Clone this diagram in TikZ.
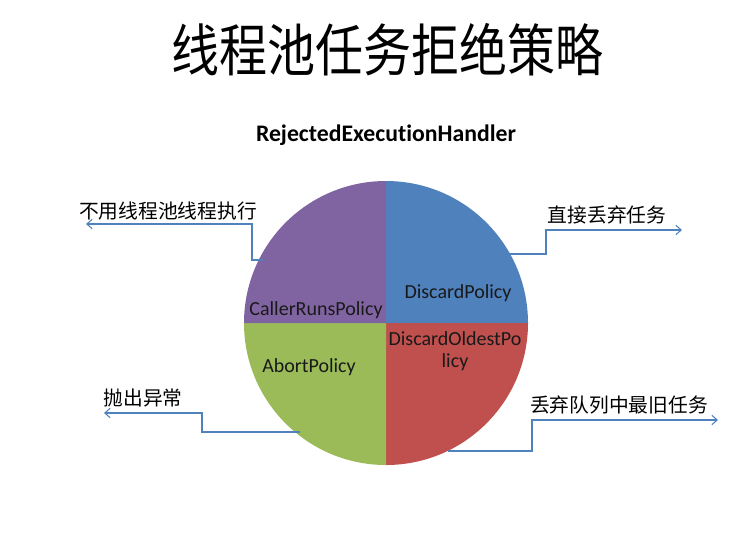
\documentclass[tikz,border=0pt]{standalone}
\usepackage{fontspec}
\setmainfont{Carlito}[Ligatures={NoCommon}]
\newfontfamily\cjk{Noto Sans CJK SC}
\usetikzlibrary{arrows.meta}

\definecolor{pieblue}{HTML}{4F81BD}
\definecolor{piered}{HTML}{C0504D}
\definecolor{piegreen}{HTML}{9BBB59}
\definecolor{piepurple}{HTML}{8064A2}

\tikzset{
  slice/.style={font=\fontsize{15pt}{16.5pt}\selectfont, anchor=base, text=black!90},
  note/.style={font=\cjk\fontsize{14.8pt}{17pt}\selectfont},
  leader/.style={draw=pieblue, line width=0.8pt, -{Straight Barb[length=4pt, width=7pt]}}
}

\begin{document}
\begin{tikzpicture}[x=0.75pt, y=-0.75pt]
    \useasboundingbox (0,0) rectangle (741,533);
    \node [font=\cjk\fontsize{36pt}{40pt}\selectfont, yscale=1.18, transform shape] (title) at (387,50) {线程池任务拒绝策略};
    \node [font=\bfseries\fontsize{17.8pt}{20pt}\selectfont, anchor=base] (handler) at (386,141) {RejectedExecutionHandler};
    % the four quarters
    \coordinate (O) at (386,323);
    \fill [pieblue] (O) -- ++(90:106.5pt) arc [start angle=90, end angle=0, radius=106.5pt] -- cycle;
    \fill [piered] (O) -- ++(0:106.5pt) arc [start angle=0, end angle=-90, radius=106.5pt] -- cycle;
    \fill [piegreen] (O) -- ++(-90:106.5pt) arc [start angle=-90, end angle=-180, radius=106.5pt] -- cycle;
    \fill [piepurple] (O) -- ++(180:106.5pt) arc [start angle=180, end angle=90, radius=106.5pt] -- cycle;
    \node [slice] (discard) at (458,298) {DiscardPolicy};
    \node [slice] (callerruns) at (316,315) {CallerRunsPolicy};
    \node [slice, align=center] (oldest) at (455,367) {DiscardOldestPo\\licy};
    \node [slice] (abort) at (309,372) {AbortPolicy};
    % leaders
    \coordinate (callerFrom) at (263,260);
    \coordinate (callerTo) at (86,224);
    \coordinate (discardFrom) at (508,254);
    \coordinate (discardTo) at (682,230);
    \coordinate (abortFrom) at (300,432);
    \coordinate (abortTo) at (104,413);
    \coordinate (oldestFrom) at (448,451);
    \coordinate (oldestTo) at (718,420);
    \draw [leader] (callerFrom) -- ++(-11,0) |- (callerTo);
    \draw [leader] (discardFrom) -- ++(38,0) |- (discardTo);
    \draw [leader] (abortFrom) -- ++(-98,0) |- (abortTo);
    \draw [leader] (oldestFrom) -- ++(84,0) |- (oldestTo);
    \node [note] (callerNote) at (168,211) {不用线程池线程执行};
    \node [note] (discardNote) at (607,215) {直接丢弃任务};
    \node [note] (abortNote) at (143,398) {抛出异常};
    \node [note] (oldestNote) at (619,405) {丢弃队列中最旧任务};
\end{tikzpicture}
\end{document}
